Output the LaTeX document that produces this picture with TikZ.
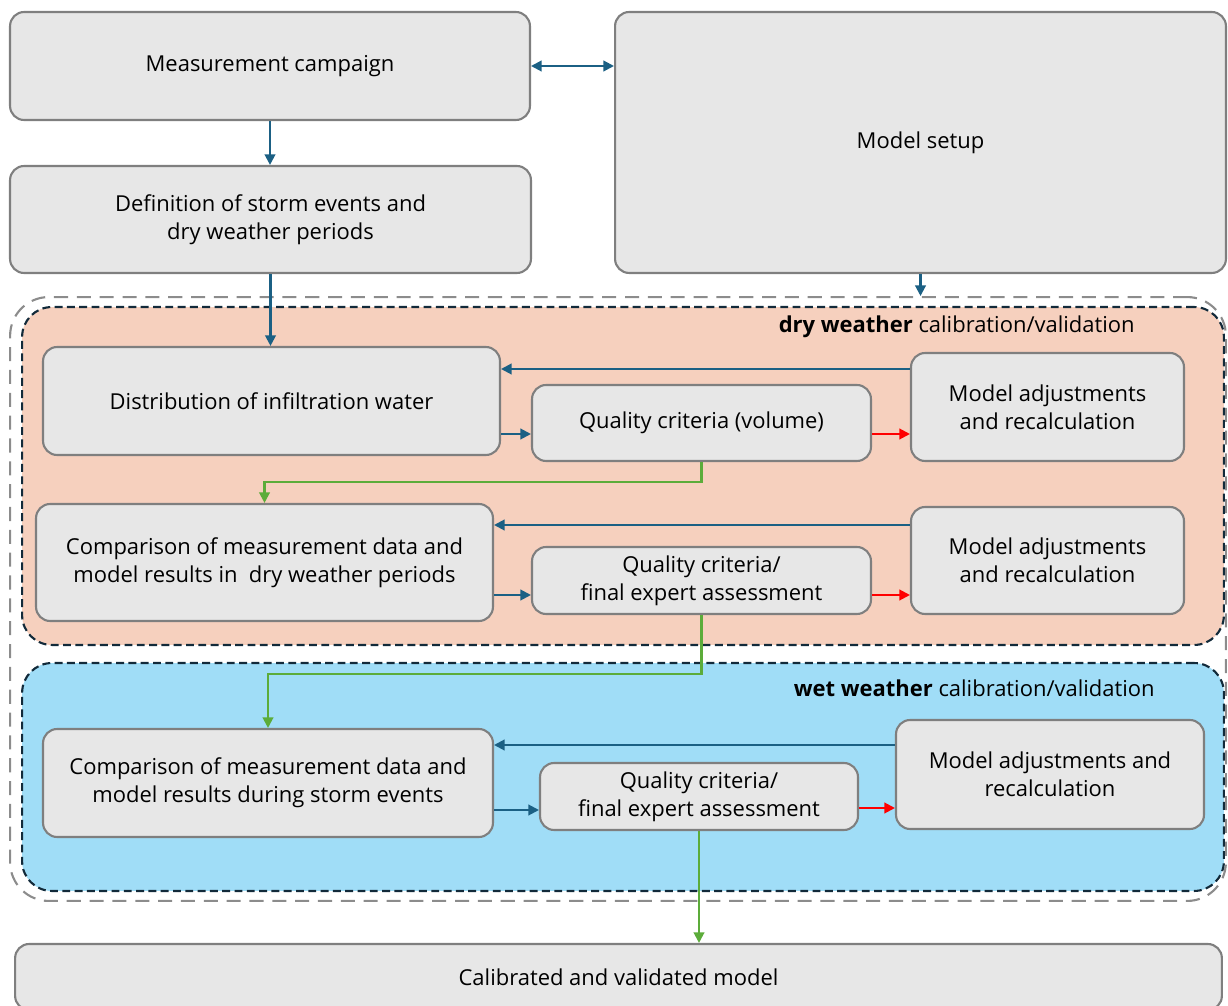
\documentclass[tikz,border=0pt]{standalone}
\usepackage{fontspec}
\setmainfont{Open Sans}
\usetikzlibrary{arrows.meta}

\definecolor{boxfill}{RGB}{231,231,231}
\definecolor{boxline}{RGB}{127,127,127}
\definecolor{flowblue}{RGB}{27,96,132}
\definecolor{passgreen}{RGB}{92,172,58}
\definecolor{dryfill}{RGB}{246,208,190}
\definecolor{wetfill}{RGB}{160,221,247}
\definecolor{zoneline}{RGB}{18,42,58}
\definecolor{framegray}{RGB}{140,140,140}

\begin{document}
\begin{tikzpicture}[
            x=0.02cm, y=-0.02cm,
            every node/.style={font=\fontsize{12.5}{16}\selectfont},
            box/.style={draw=boxline, fill=boxfill, line width=1.2pt, rounded corners=8pt, align=center, inner sep=0pt},
            outerframe/.style={draw=framegray, line width=1.2pt, dash pattern=on 8pt off 5pt, rounded corners=22pt, inner sep=0pt},
            dryzone/.style={draw=zoneline, fill=dryfill, line width=1.2pt, dash pattern=on 4.5pt off 2.5pt, rounded corners=17pt, inner sep=0pt},
            wetzone/.style={dryzone, fill=wetfill},
            zonelabel/.style={anchor=east, inner sep=0pt},
            flow/.style={draw=flowblue, line width=1.2pt, -{Triangle[length=6pt, width=6pt]}},
            redo/.style={flow, draw=red},
            pass/.style={flow, draw=passgreen}
        ]
            \useasboundingbox (0,0) rectangle (1228,1006);

            % top row
            \node[box, minimum width=10.4cm, minimum height=2.16cm] (meas) at (270,66) {Measurement campaign};
            \node[box, minimum width=12.22cm, minimum height=5.22cm] (setup) at (920.5,142.5) {Model setup};
            \node[box, minimum width=10.42cm, minimum height=2.14cm] (def) at (270.5,219.5) {Definition of storm events and\\dry weather periods};

            % calibration frame and zones
            \node[outerframe, minimum width=24.32cm, minimum height=12.08cm] (frame) at (618,599) {};
            \node[dryzone, minimum width=24.04cm, minimum height=6.76cm] (dry) at (623,476) {};
            \node[wetzone, minimum width=24.04cm, minimum height=4.56cm] (wet) at (623,777) {};
            \node[zonelabel] (drylabel) at (1135,327) {\textbf{dry weather} calibration/validation};
            \node[zonelabel] (wetlabel) at (1155,688) {\textbf{wet weather} calibration/validation};

            % dry weather
            \node[box, minimum width=9.14cm, minimum height=2.16cm] (dist) at (271.5,401) {Distribution of infiltration water};
            \node[box, minimum width=6.78cm, minimum height=1.52cm] (qcvol) at (701.5,423) {Quality criteria (volume)};
            \node[box, minimum width=5.46cm, minimum height=2.16cm] (adjvol) at (1047.5,407) {Model adjustments\\and recalculation};
            \node[box, minimum width=9.14cm, minimum height=2.34cm] (cmpdry) at (264.5,562.5) {Comparison of measurement data and\\model results in\ \ dry weather periods};
            \node[box, minimum width=6.78cm, minimum height=1.34cm] (qcdry) at (701.5,580.5) {Quality criteria/\\final expert assessment};
            \node[box, minimum width=5.46cm, minimum height=2.14cm] (adjdry) at (1047.5,560.5) {Model adjustments\\and recalculation};

            % wet weather
            \node[box, minimum width=9.0cm, minimum height=2.16cm] (cmpwet) at (268,783) {Comparison of measurement data and\\model results during storm events};
            \node[box, minimum width=6.36cm, minimum height=1.34cm] (qcwet) at (699,796.5) {Quality criteria/\\final expert assessment};
            \node[box, minimum width=6.16cm, minimum height=2.18cm] (adjwet) at (1050,774.5) {Model adjustments and\\recalculation};

            % result
            \node[box, minimum width=24.14cm, minimum height=1.32cm] (final) at (618.5,977) {Calibrated and validated model};

            % connectors on top
            \draw[flow, {Triangle[length=6pt, width=6pt]}-{Triangle[length=6pt, width=6pt]}] (meas.east) -- (meas.east -| setup.west);
            \draw[flow] (meas.south) -- (meas.south |- def.north);
            \draw[flow] (setup.south) -- (setup.south |- frame.north);
            \draw[flow] (def.south) -- (def.south |- dist.north);

            % dry weather loop
            \draw[flow] (adjvol.west |- 0,369) -- (dist.east |- 0,369);
            \draw[flow] (dist.east |- 0,434) -- (qcvol.west |- 0,434);
            \draw[redo] (qcvol.east |- 0,434) -- (adjvol.west |- 0,434);
            \draw[pass] (qcvol.south) -- (qcvol.south |- 0,482) -| (cmpdry.north);
            \draw[flow] (adjdry.west |- 0,525) -- (cmpdry.east |- 0,525);
            \draw[flow] (cmpdry.east |- 0,595) -- (qcdry.west |- 0,595);
            \draw[redo] (qcdry.east |- 0,595) -- (adjdry.west |- 0,595);
            \draw[pass] (qcdry.south) -- (qcdry.south |- 0,674) -| (cmpwet.north);

            % wet weather loop
            \draw[flow] (adjwet.west |- 0,745) -- (cmpwet.east |- 0,745);
            \draw[flow] (cmpwet.east |- 0,810) -- (qcwet.west |- 0,810);
            \draw[redo] (qcwet.east |- 0,808) -- (adjwet.west |- 0,808);
            \draw[pass] (qcwet.south) -- (qcwet.south |- final.north);

        \end{tikzpicture}
\end{document}
